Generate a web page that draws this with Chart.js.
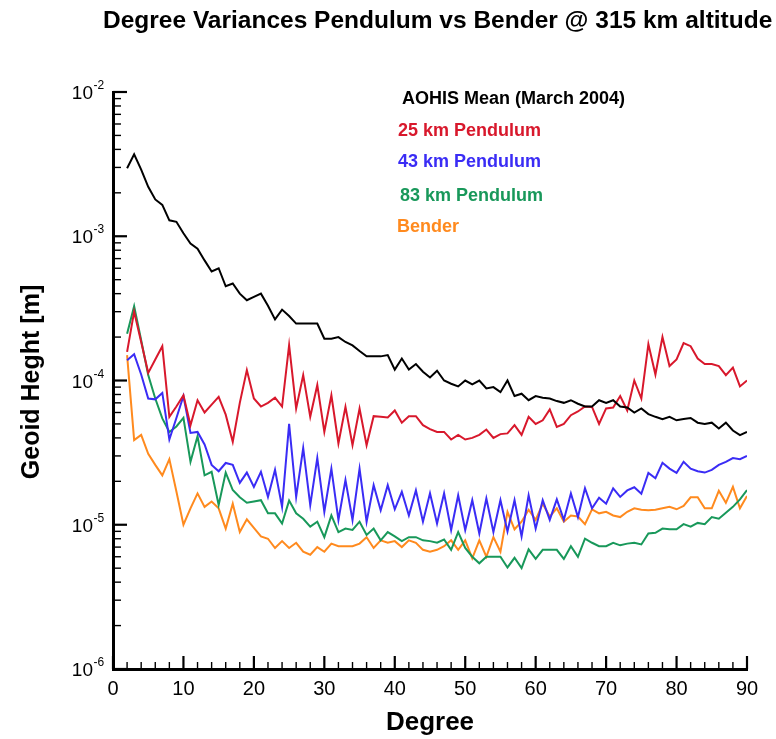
<!DOCTYPE html>
<html><head><meta charset="utf-8">
<script src="https://cdn.jsdelivr.net/npm/chart.js@4.4.1/dist/chart.umd.min.js"></script>
<style>html,body{margin:0;padding:0;background:#fff;}#wrap{width:776px;height:739px;position:relative;}</style>
</head><body><div id="wrap"><canvas id="c" width="776" height="739"></canvas></div>
<script>
const titleText = 'Degree Variances Pendulum vs Bender @ 315 km altitude';
const xAxisTitle = 'Degree';
const yAxisTitle = 'Geoid Heght [m]';

const degrees = [2,3,4,5,6,7,8,9,10,11,12,13,14,15,16,17,18,19,20,21,22,23,24,25,26,27,28,29,30,31,32,33,34,35,36,37,38,39,40,41,42,43,44,45,46,47,48,49,50,51,52,53,54,55,56,57,58,59,60,61,62,63,64,65,66,67,68,69,70,71,72,73,74,75,76,77,78,79,80,81,82,83,84,85,86,87,88,89,90];

const aohisMean = [2.96e-3,3.7e-3,2.9e-3,2.2e-3,1.8e-3,1.65e-3,1.29e-3,1.26e-3,1.05e-3,8.9e-4,
  8.2e-4,6.8e-4,5.7e-4,6.0e-4,4.5e-4,4.7e-4,4.0e-4,3.6e-4,3.8e-4,4.0e-4,
  3.3e-4,2.65e-4,3.1e-4,2.8e-4,2.48e-4,2.48e-4,2.48e-4,2.48e-4,1.95e-4,1.95e-4,
  2.0e-4,1.85e-4,1.75e-4,1.6e-4,1.47e-4,1.47e-4,1.47e-4,1.5e-4,1.19e-4,1.42e-4,
  1.19e-4,1.3e-4,1.15e-4,1.05e-4,1.17e-4,1.0e-4,9.5e-5,9.1e-5,1.0e-4,9.4e-5,
  1.0e-4,8.8e-5,9.0e-5,8.3e-5,1.0e-4,7.8e-5,8.1e-5,7.3e-5,7.8e-5,7.6e-5,
  7.5e-5,7.2e-5,7.0e-5,7.3e-5,6.9e-5,6.6e-5,6.6e-5,7.3e-5,7.0e-5,7.3e-5,
  6.6e-5,6.5e-5,6.0e-5,6.4e-5,5.85e-5,5.6e-5,5.4e-5,5.6e-5,5.3e-5,5.4e-5,
  5.5e-5,5.1e-5,5.0e-5,5.1e-5,4.65e-5,5.1e-5,4.5e-5,4.18e-5,4.4e-5];

const pendulum25 = [1.58e-4,3.0e-4,1.85e-4,1.13e-4,1.4e-4,1.73e-4,5.6e-5,6.6e-5,7.9e-5,4.9e-5,
  7.3e-5,6.0e-5,6.8e-5,7.7e-5,5.8e-5,3.76e-5,7.0e-5,1.18e-4,7.5e-5,6.6e-5,
  7.0e-5,7.6e-5,6.6e-5,1.76e-4,6.4e-5,1.09e-4,5.6e-5,9.3e-5,4.4e-5,7.9e-5,
  3.66e-5,6.56e-5,3.56e-5,6.4e-5,3.56e-5,5.66e-5,5.6e-5,5.55e-5,6.2e-5,5.1e-5,
  5.66e-5,5.66e-5,4.9e-5,4.6e-5,4.4e-5,4.4e-5,3.9e-5,4.2e-5,3.9e-5,4.0e-5,
  4.2e-5,4.57e-5,4.0e-5,4.25e-5,4.3e-5,4.9e-5,4.2e-5,5.6e-5,5.0e-5,5.3e-5,
  6.3e-5,4.77e-5,5.0e-5,5.75e-5,6.1e-5,6.6e-5,6.56e-5,5.0e-5,6.4e-5,6.5e-5,
  7.8e-5,6.2e-5,1.0e-4,7.5e-5,1.79e-4,1.1e-4,2.0e-4,1.26e-4,1.4e-4,1.82e-4,
  1.73e-4,1.42e-4,1.3e-4,1.3e-4,1.26e-4,1.09e-4,1.23e-4,9.1e-5,1.0e-4];

const pendulum43 = [1.38e-4,1.52e-4,1.1e-4,7.5e-5,7.4e-5,8.2e-5,3.9e-5,5.5e-5,7.8e-5,4.33e-5,
  4.4e-5,3.6e-5,2.6e-5,2.35e-5,2.68e-5,2.6e-5,1.95e-5,2.3e-5,1.83e-5,2.33e-5,
  1.56e-5,2.4e-5,1.33e-5,5.0e-5,1.56e-5,3.4e-5,1.37e-5,2.9e-5,1.23e-5,2.45e-5,
  1.08e-5,2.04e-5,1.08e-5,2.45e-5,1.05e-5,1.88e-5,1.26e-5,1.88e-5,1.28e-5,1.69e-5,
  1.16e-5,1.73e-5,1.05e-5,1.65e-5,1.02e-5,1.65e-5,9.2e-6,1.6e-5,9.2e-6,1.48e-5,
  8.7e-6,1.52e-5,8.9e-6,1.48e-5,9.0e-6,1.48e-5,8.3e-6,1.6e-5,9.4e-6,1.48e-5,
  1.08e-5,1.5e-5,1.08e-5,1.65e-5,1.13e-5,1.79e-5,1.3e-5,1.54e-5,1.4e-5,1.79e-5,
  1.56e-5,1.73e-5,1.82e-5,1.64e-5,2.29e-5,2.1e-5,2.69e-5,2.45e-5,2.29e-5,2.73e-5,
  2.45e-5,2.35e-5,2.3e-5,2.4e-5,2.6e-5,2.73e-5,2.9e-5,2.85e-5,3.0e-5];

const pendulum83 = [2.11e-4,3.27e-4,1.9e-4,1.09e-4,7.5e-5,5.46e-5,4.4e-5,4.8e-5,5.5e-5,2.73e-5,
  4.1e-5,2.2e-5,2.33e-5,1.37e-5,2.3e-5,1.74e-5,1.55e-5,1.42e-5,1.45e-5,1.48e-5,
  1.2e-5,1.2e-5,1.02e-5,1.47e-5,1.2e-5,1.1e-5,9.7e-6,1.05e-5,8.2e-6,1.16e-5,
  8.9e-6,9.4e-6,9.2e-6,1.05e-5,8.5e-6,9.4e-6,7.8e-6,8.9e-6,8.3e-6,7.7e-6,
  8.2e-6,8.2e-6,7.8e-6,7.7e-6,7.5e-6,7.9e-6,6.7e-6,8.9e-6,6.9e-6,6.0e-6,
  5.4e-6,6.0e-6,6.0e-6,6.0e-6,5.06e-6,5.9e-6,5.0e-6,6.75e-6,5.8e-6,6.7e-6,
  6.7e-6,6.7e-6,5.8e-6,7.1e-6,6.0e-6,8.0e-6,7.5e-6,7.1e-6,7.1e-6,7.5e-6,
  7.2e-6,7.4e-6,7.5e-6,7.3e-6,8.7e-6,8.8e-6,9.4e-6,9.3e-6,9.3e-6,1.01e-5,
  9.7e-6,1.03e-5,1.01e-5,1.13e-5,1.1e-5,1.21e-5,1.33e-5,1.5e-5,1.74e-5];

const bender = [1.5e-4,3.86e-5,4.2e-5,3.1e-5,2.6e-5,2.2e-5,2.85e-5,1.7e-5,1.0e-5,1.3e-5,
  1.65e-5,1.33e-5,1.45e-5,1.3e-5,9.4e-6,1.4e-5,8.9e-6,1.09e-5,9.5e-6,8.3e-6,
  8.0e-6,6.9e-6,7.7e-6,6.9e-6,7.5e-6,6.5e-6,6.2e-6,7.0e-6,6.5e-6,7.4e-6,
  7.1e-6,7.1e-6,7.1e-6,7.4e-6,8.2e-6,6.9e-6,7.8e-6,7.5e-6,7.7e-6,7.0e-6,
  7.8e-6,7.5e-6,6.7e-6,6.5e-6,6.7e-6,7.1e-6,7.8e-6,6.7e-6,7.8e-6,5.85e-6,
  7.8e-6,6.0e-6,8.2e-6,6.5e-6,1.23e-5,9.3e-6,1.05e-5,1.27e-5,1.08e-5,1.4e-5,
  1.14e-5,1.3e-5,1.05e-5,1.16e-5,1.14e-5,1.01e-5,1.28e-5,1.2e-5,1.23e-5,1.16e-5,
  1.13e-5,1.23e-5,1.3e-5,1.27e-5,1.26e-5,1.27e-5,1.3e-5,1.33e-5,1.28e-5,1.35e-5,
  1.55e-5,1.55e-5,1.3e-5,1.3e-5,1.72e-5,1.42e-5,1.83e-5,1.3e-5,1.58e-5];

const seriesLabels = ['AOHIS Mean (March 2004)','25 km Pendulum','43 km Pendulum','83 km Pendulum','Bender'];
const seriesColors = ['#000000','#d8182c','#3a2cf5','#18985a','#ff8a1e'];
const seriesValues = [aohisMean, pendulum25, pendulum43, pendulum83, bender];

const xMajorTicks = [0,10,20,30,40,50,60,70,80,90];
const xMinorTicks = [2,4,6,8,12,14,16,18,22,24,26,28,32,34,36,38,42,44,46,48,52,54,56,58,62,64,66,68,72,74,76,78,82,84,86,88];
const xTickLabels = ['0','10','20','30','40','50','60','70','80','90'];
const yExponents = [-6,-5,-4,-3,-2];
const yTickLabels = ['-6','-5','-4','-3','-2'];
const yMinorMantissas = [2,3,4,5,6,7,8,9];

const FONT = '"Liberation Sans", Arial, Helvetica, sans-serif';

const decor = {
  id:'decor',
  afterDraw(chart){
    const ctx = chart.ctx, xs = chart.scales.x, ys = chart.scales.y, ca = chart.chartArea;
    ctx.save();
    ctx.strokeStyle = '#000'; ctx.fillStyle = '#000';
    // y ticks (inward)
    yExponents.forEach((e,i)=>{
      const py = ys.getPixelForValue(Math.pow(10,e));
      ctx.lineWidth = 2.2;
      ctx.beginPath(); ctx.moveTo(ca.left, py); ctx.lineTo(ca.left+14, py); ctx.stroke();
      if (e < -2) {
        yMinorMantissas.forEach(m=>{
          const pm = ys.getPixelForValue(m*Math.pow(10,e));
          ctx.lineWidth = 1.4;
          ctx.beginPath(); ctx.moveTo(ca.left, pm); ctx.lineTo(ca.left+8, pm); ctx.stroke();
        });
      }
      ctx.font = '19px ' + FONT; ctx.textAlign = 'right'; ctx.textBaseline = 'middle';
      ctx.fillText('10', 93, py + 2);
      ctx.font = '12px ' + FONT; ctx.textAlign = 'left'; ctx.textBaseline = 'alphabetic';
      ctx.fillText(yTickLabels[i], 93.5, py - 3);
    });
    // x ticks (inward)
    xMajorTicks.forEach((v,i)=>{
      const px = xs.getPixelForValue(v);
      ctx.lineWidth = 2.2;
      ctx.beginPath(); ctx.moveTo(px, ca.bottom); ctx.lineTo(px, ca.bottom-13); ctx.stroke();
      ctx.font = '20px ' + FONT; ctx.textAlign = 'center'; ctx.textBaseline = 'middle';
      ctx.fillText(xTickLabels[i], px, ca.bottom + 20);
    });
    xMinorTicks.forEach(v=>{
      const px = xs.getPixelForValue(v);
      ctx.lineWidth = 1.4;
      ctx.beginPath(); ctx.moveTo(px, ca.bottom); ctx.lineTo(px, ca.bottom-7); ctx.stroke();
    });
    // axis titles
    ctx.font = 'bold 26px ' + FONT; ctx.textAlign = 'center'; ctx.textBaseline = 'middle';
    ctx.fillText(xAxisTitle, 430, 723);
    ctx.save();
    ctx.translate(32, 382); ctx.rotate(-Math.PI/2);
    ctx.font = 'bold 25px ' + FONT;
    ctx.fillText(yAxisTitle, 0, 0);
    ctx.restore();
    // title
    ctx.font = 'bold 24.5px ' + FONT; ctx.textAlign = 'left'; ctx.textBaseline = 'alphabetic';
    ctx.fillText(titleText, 103, 28, 673);
    // legend text
    const legendPos = [[402,99],[398,131],[398,162],[400,196],[397,227]];
    ctx.font = 'bold 18px ' + FONT; ctx.textBaseline = 'middle';
    chart.data.datasets.forEach((ds,i)=>{
      ctx.fillStyle = ds.borderColor;
      ctx.fillText(ds.label, legendPos[i][0], legendPos[i][1]);
    });
    ctx.restore();
  }
};

const datasets = seriesValues.map((vals,i)=>({
  label: seriesLabels[i],
  data: degrees.map((d,j)=>({x:d, y:vals[j]})),
  borderColor: seriesColors[i],
  backgroundColor: seriesColors[i],
  borderWidth: 2,
  pointRadius: 0,
  fill: false,
  tension: 0
})).reverse();
// draw order: black on top
datasets.reverse();

new Chart(document.getElementById('c'), {
  type:'line',
  data:{datasets},
  options:{
    responsive:false, animation:false, devicePixelRatio:1,
    layout:{padding:{left:113,top:92,right:29,bottom:70}},
    plugins:{legend:{display:false}, tooltip:{enabled:false}, title:{display:false}},
    scales:{
      x:{type:'linear', min:0, max:90, grid:{display:false, drawTicks:false}, ticks:{display:false}, border:{display:true, color:'#000', width:3}},
      y:{type:'logarithmic', min:1e-6, max:1e-2, grid:{display:false, drawTicks:false}, ticks:{display:false}, border:{display:true, color:'#000', width:3}}
    }
  },
  plugins:[decor]
});
</script>
</body></html>
